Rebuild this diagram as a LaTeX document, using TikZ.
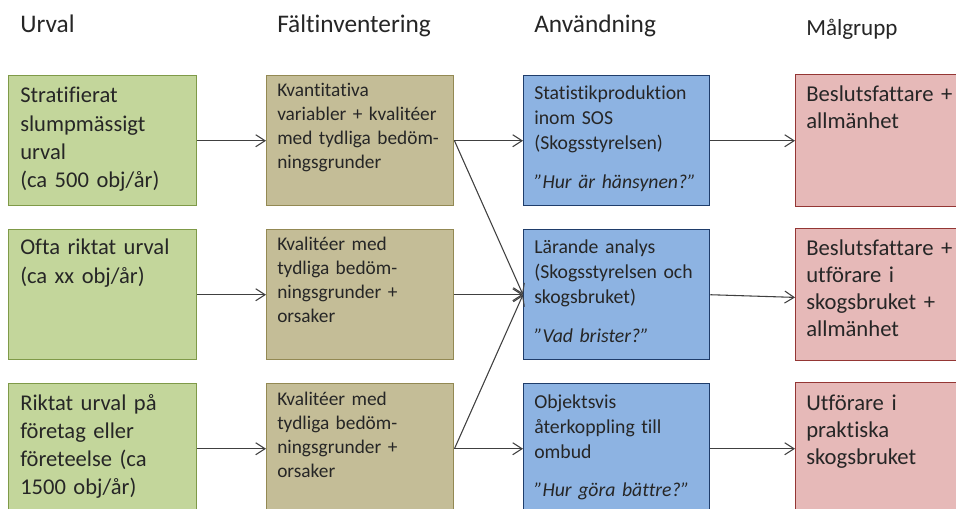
\documentclass[tikz,border=0pt]{standalone}
\usepackage{fontspec}
\setmainfont{Carlito}[Ligatures=NoCommon]
\usetikzlibrary{arrows.meta}

\definecolor{grfill}{HTML}{C3D69B}
\definecolor{grline}{HTML}{7F9A48}
\definecolor{tnfill}{HTML}{C4BD97}
\definecolor{tnline}{HTML}{938953}
\definecolor{blfill}{HTML}{8DB3E2}
\definecolor{blline}{HTML}{1F3D6B}
\definecolor{pkfill}{HTML}{E6B9B8}
\definecolor{pkline}{HTML}{943634}
\definecolor{ink}{HTML}{262626}
\definecolor{wire}{HTML}{404040}

\begin{document}
\begin{tikzpicture}[x=0.75pt,y=-0.75pt,
  cell/.style={draw, line width=1.1pt, anchor=north west, inner sep=0pt,
    minimum height=130*0.75pt},
  greenbox/.style={cell, fill=grfill, draw=grline, minimum width=188*0.75pt},
  tanbox/.style={cell, fill=tnfill, draw=tnline, minimum width=187*0.75pt},
  bluebox/.style={cell, fill=blfill, draw=blline, minimum width=186*0.75pt},
  pinkbox/.style={cell, fill=pkfill, draw=pkline, minimum width=180*0.75pt,
    minimum height=132*0.75pt},
  label/.style={anchor=base west, inner sep=0pt, text=ink, align=left,
    text width=200*0.75pt},
  greentxt/.style={label, font=\fontsize{16.9pt}{21.2pt}\selectfont},
  tantxt/.style={label, font=\fontsize{14.5pt}{18pt}\selectfont},
  bluetxt/.style={label, font=\fontsize{14.8pt}{18.75pt}\selectfont},
  pinktxt/.style={label, font=\fontsize{17pt}{20.25pt}\selectfont},
  header/.style={anchor=base west, inner sep=0pt, text=ink,
    font=\fontsize{19pt}{23pt}\selectfont},
  arr/.style={draw=wire, line width=0.8pt,
    -{Straight Barb[length=7pt,width=9pt,line width=0.8pt]}}
]
\useasboundingbox[fill=white] (0,0) rectangle (956,509);

% column headings
\node[header] (h1) at (20,33) {Urval};
\node[header] (h2) at (277,33) {Fältinventering};
\node[header] (h3) at (534,33) {Användning};
\node[header, font=\fontsize{17.3pt}{21pt}\selectfont] (h4) at (806,36) {Målgrupp};

% selection boxes
\node[greenbox] (g1) at (8,75) {};
\node[greenbox] (g2) at (8,229) {};
\node[greenbox] (g3) at (8,383) {};
\node[greentxt] (g1t) at (20,103) {Stratifierat\\slumpmässigt\\urval\\(ca 500 obj/år)};
\node[greentxt] (g2t) at (20,255) {Ofta riktat urval\\(ca xx obj/år)};
\node[greentxt] (g3t) at (20,410) {Riktat urval på\\företag eller\\företeelse (ca\\1500 obj/år)};

% field inventory boxes
\node[tanbox] (t1) at (266,75) {};
\node[tanbox] (t2) at (266,229) {};
\node[tanbox] (t3) at (266,383) {};
\node[tantxt] (t1t) at (277,97) {Kvantitativa\\variabler + kvalitéer\\med tydliga bedöm-\\ningsgrunder};
\node[tantxt] (t2t) at (277,251) {Kvalitéer med\\tydliga bedöm-\\ningsgrunder +\\orsaker};
\node[tantxt] (t3t) at (277,405) {Kvalitéer med\\tydliga bedöm-\\ningsgrunder +\\orsaker};

% usage boxes
\node[bluebox] (b1) at (523,75) {};
\node[bluebox] (b2) at (523,229) {};
\node[bluebox] (b3) at (523,383) {};
\node[bluetxt] (b1t) at (534,100) {Statistikproduktion\\inom SOS\\(Skogsstyrelsen)\\[10pt]\textit{”Hur är hänsynen?”}};
\node[bluetxt] (b2t) at (534,254) {Lärande analys\\(Skogsstyrelsen och\\skogsbruket)\\[10pt]\textit{”Vad brister?”}};
\node[bluetxt] (b3t) at (534,408) {Objektsvis\\återkoppling till\\ombud\\[10pt]\textit{”Hur göra bättre?”}};

% target group boxes
\node[pinkbox] (p1) at (795,74) {};
\node[pinkbox] (p2) at (795,228) {};
\node[pinkbox] (p3) at (795,382) {};
\node[pinktxt] (p1t) at (806,102) {Beslutsfattare +\\allmänhet};
\node[pinktxt] (p2t) at (806,256) {Beslutsfattare +\\utförare i\\skogsbruket +\\allmänhet};
\node[pinktxt] (p3t) at (806,410) {Utförare i\\praktiska\\skogsbruket};

% connectors
\draw[arr] (g1.east) -- (t1.west);
\draw[arr] (g2.east) -- (t2.west);
\draw[arr] (g3.east) -- (t3.west);
\draw[arr] (t1.east) -- (b1.west);
\draw[arr] (t2.east) -- (b2.west);
\draw[arr] (t3.east) -- (b3.west);
\draw[arr] (t1.east) -- (b2.west);
\draw[arr] (t3.east) -- (b2.west);
\draw[arr] (b1.east) -- (p1.west);
\draw[arr] (b2.east) -- ([yshift=-2pt]p2.west);
\draw[arr] (b3.east) -- (p3.west);
\end{tikzpicture}
\end{document}
